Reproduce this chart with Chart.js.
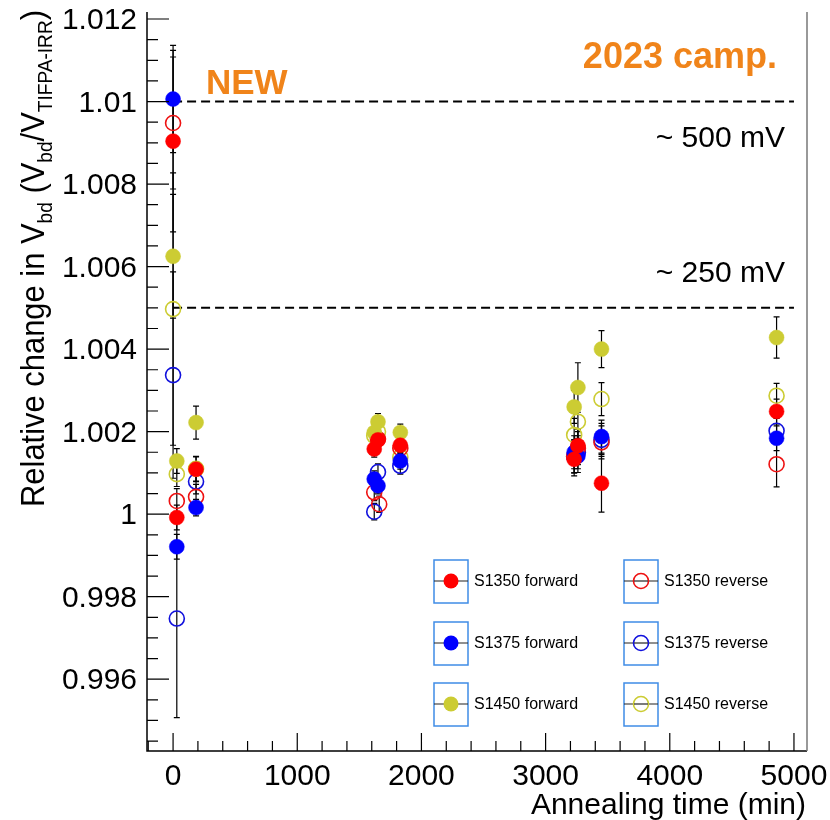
<!DOCTYPE html>
<html>
<head>
<meta charset="utf-8">
<script src="https://cdn.jsdelivr.net/npm/chart.js@4.4.0/dist/chart.umd.min.js"></script>
<style>
  html, body { margin: 0; padding: 0; background: #fff; }
</style>
</head>
<body>
<canvas id="annealChart" width="830" height="820"></canvas>
<script>
// axis setup
const xTicks = [0, 1000, 2000, 3000, 4000, 5000];
const yTicks = [0.996, 0.998, 1, 1.002, 1.004, 1.006, 1.008, 1.01, 1.012];
const xRange = [-210, 5105];
const yRange = [0.99426, 1.01217];

// reference lines
const refLevels = [1.01, 1.005];
const refSpan = [0, 5000];
const refLabels = ['~ 500 mV', '~ 250 mV'];

// annealing times (min), values, errors
const s1350fT = [0, 30, 185, 1620, 1650, 1830, 3230, 3260, 3450, 4860];
const s1350fV = [1.00904, 0.99992, 1.00109, 1.00158, 1.00180, 1.00167, 1.00133, 1.00166, 1.00075, 1.00249];
const s1350fE = [0.0022, 0.0003, 0.0003, 0.0002, 0.0002, 0.0002, 0.0004, 0.0004, 0.0007, 0.0003];

const s1375fT = [0, 30, 185, 1620, 1650, 1830, 3230, 3260, 3450, 4860];
const s1375fV = [1.01006, 0.99921, 1.00016, 1.00085, 1.00069, 1.00129, 1.00150, 1.00141, 1.00188, 1.00184];
const s1375fE = [0.0013, 0.0003, 0.0002, 0.0002, 0.0002, 0.0002, 0.0004, 0.0004, 0.0004, 0.0003];

const s1450fT = [0, 30, 185, 1620, 1650, 1830, 3230, 3260, 3450, 4860];
const s1450fV = [1.00625, 1.00129, 1.00222, 1.00198, 1.00224, 1.00198, 1.00260, 1.00307, 1.00400, 1.00428];
const s1450fE = [0.0015, 0.0003, 0.0004, 0.0002, 0.0002, 0.0002, 0.0004, 0.0006, 0.00045, 0.0005];

const s1350rT = [0, 30, 185, 1620, 1650, 1660, 1830, 3230, 3260, 3450, 4860];
const s1350rV = [1.00948, 1.00032, 1.00042, 1.00053, 1.00182, 1.00024, 1.00160, 1.00140, 1.00160, 1.00174, 1.00121];
const s1350rE = [0.0016, 0.0003, 0.0003, 0.0002, 0.0002, 0.0002, 0.0002, 0.0004, 0.0004, 0.0004, 0.00055];

const s1375rT = [0, 30, 185, 1620, 1650, 1830, 3230, 3260, 3450, 4860];
const s1375rV = [1.00337, 0.99747, 1.00079, 1.00006, 1.00102, 1.00117, 1.00140, 1.00150, 1.00180, 1.00202];
const s1375rE = [0.0025, 0.0024, 0.0003, 0.0002, 0.0002, 0.0002, 0.0004, 0.0004, 0.0004, 0.0003];

const s1450rT = [0, 30, 185, 1620, 1650, 1830, 3230, 3260, 3450, 4860];
const s1450rV = [1.00497, 1.00097, 1.00110, 1.00190, 1.00200, 1.00138, 1.00192, 1.00224, 1.00279, 1.00287];
const s1450rE = [0.0033, 0.0003, 0.0003, 0.0002, 0.0002, 0.0002, 0.0004, 0.0004, 0.0004, 0.0003];

const FONT = '"Liberation Sans", Arial, Helvetica, sans-serif';
const ORANGE = '#f0841a';

const series = [
    { label: 'S1350 forward', color: '#ff0000', filled: true,  t: s1350fT, v: s1350fV, e: s1350fE },
    { label: 'S1375 forward', color: '#0000ff', filled: true,  t: s1375fT, v: s1375fV, e: s1375fE },
    { label: 'S1450 forward', color: '#cccc33', filled: true,  t: s1450fT, v: s1450fV, e: s1450fE },
    { label: 'S1350 reverse', color: '#ee1111', filled: false, t: s1350rT, v: s1350rV, e: s1350rE },
    { label: 'S1375 reverse', color: '#1111dd', filled: false, t: s1375rT, v: s1375rV, e: s1375rE },
    { label: 'S1450 reverse', color: '#cccc33', filled: false, t: s1450rT, v: s1450rV, e: s1450rE }
];

const datasets = series.map(s => ({
    type: 'scatter',
    label: s.label,
    data: s.t.map((t, i) => ({ x: t, y: s.v[i] })),
    errs: s.e,
    pointStyle: 'circle',
    pointRadius: 7.5,
    pointHoverRadius: 7.5,
    pointBackgroundColor: s.filled ? s.color : 'rgba(0,0,0,0)',
    pointBorderColor: s.color,
    pointBorderWidth: s.filled ? 0.5 : 1.6,
    showLine: false
}));

refLevels.forEach(lv => {
    datasets.push({
        type: 'line',
        label: '',
        data: refSpan.map(x => ({ x: x, y: lv })),
        borderColor: '#000',
        borderWidth: 2,
        borderDash: [9, 5],
        pointRadius: 0,
        fill: false
    });
});

// vertical error bars, drawn under the markers
const errorBars = {
    id: 'errorBars',
    beforeDatasetsDraw(chart) {
        const { ctx, scales: { x, y } } = chart;
        ctx.save();
        ctx.strokeStyle = '#000';
        ctx.lineWidth = 1.2;
        chart.data.datasets.forEach(ds => {
            if (!ds.errs) return;
            ds.data.forEach((p, i) => {
                const px = x.getPixelForValue(p.x);
                const top = y.getPixelForValue(p.y + ds.errs[i]);
                const bot = y.getPixelForValue(p.y - ds.errs[i]);
                ctx.beginPath();
                ctx.moveTo(px, top); ctx.lineTo(px, bot);
                ctx.moveTo(px - 3, top); ctx.lineTo(px + 3, top);
                ctx.moveTo(px - 3, bot); ctx.lineTo(px + 3, bot);
                ctx.stroke();
            });
        });
        ctx.restore();
    }
};

// ROOT style frame, inward ticks, titles, texts and legend
const decorations = {
    id: 'decorations',
    afterDraw(chart) {
        const { ctx, chartArea: a, scales: { x, y } } = chart;
        ctx.save();

        // frame
        ctx.strokeStyle = '#000';
        ctx.lineWidth = 1.5;
        ctx.beginPath();
        ctx.moveTo(a.left, a.top); ctx.lineTo(a.left, a.bottom); ctx.lineTo(a.right, a.bottom);
        ctx.stroke();
        ctx.strokeStyle = '#777';
        ctx.beginPath();
        ctx.moveTo(a.right, a.bottom); ctx.lineTo(a.right, a.top);
        ctx.stroke();

        // x ticks
        ctx.strokeStyle = '#000';
        ctx.lineWidth = 1.2;
        ctx.beginPath();
        for (let k = Math.ceil(xRange[0] / 200); k <= Math.floor(xRange[1] / 200); k++) {
            const px = x.getPixelForValue(k * 200);
            const len = (k % 5 === 0) ? 18 : 10;
            ctx.moveTo(px, a.bottom); ctx.lineTo(px, a.bottom - len);
        }
        // y ticks
        for (let k = Math.ceil(yRange[0] / 0.0005 - 1e-6); k <= Math.floor(yRange[1] / 0.0005 + 1e-6); k++) {
            const py = y.getPixelForValue(k * 0.0005);
            const len = (k % 4 === 0) ? 22 : 11;
            ctx.moveTo(a.left, py); ctx.lineTo(a.left + len, py);
        }
        ctx.stroke();

        // x title
        ctx.fillStyle = '#000';
        ctx.font = '30px ' + FONT;
        ctx.textAlign = 'right';
        ctx.textBaseline = 'alphabetic';
        ctx.fillText('Annealing time (min)', 806, 814);

        // y title with subscripts
        const parts = [
            ['Relative change in V', false], ['bd', true], [' (V', false], ['bd', true],
            ['/V', false], ['TIFPA-IRR', true], [')', false]
        ];
        const mainF = '34px ' + FONT, subF = '21px ' + FONT;
        let natural = 0;
        parts.forEach(p => { ctx.font = p[1] ? subF : mainF; natural += ctx.measureText(p[0]).width; });
        const sx = 497 / natural;
        ctx.save();
        ctx.translate(44, 507);
        ctx.rotate(-Math.PI / 2);
        ctx.scale(sx, 1);
        ctx.textAlign = 'left';
        let cx = 0;
        parts.forEach(p => {
            ctx.font = p[1] ? subF : mainF;
            ctx.fillText(p[0], cx, p[1] ? 8 : 0);
            cx += ctx.measureText(p[0]).width;
        });
        ctx.restore();

        // annotations
        ctx.fillStyle = ORANGE;
        ctx.font = 'bold 35px ' + FONT;
        ctx.textAlign = 'left';
        ctx.fillText('NEW', 206, 94);
        ctx.textAlign = 'right';
        ctx.font = 'bold 36px ' + FONT;
        ctx.fillText('2023 camp.', 777, 68);

        ctx.fillStyle = '#000';
        ctx.font = '30px ' + FONT;
        ctx.fillText(refLabels[0], 785, 147);
        ctx.fillText(refLabels[1], 785, 282);

        // legend
        const colX = [434, 624];
        const rowY = [581, 643, 704];
        series.forEach((s, i) => {
            const bx = colX[s.filled ? 0 : 1];
            const cy = rowY[i % 3];
            ctx.strokeStyle = '#3f8ce6';
            ctx.lineWidth = 1.5;
            ctx.strokeRect(bx, cy - 21, 34, 43);
            ctx.strokeStyle = '#222';
            ctx.lineWidth = 1.2;
            ctx.beginPath();
            ctx.moveTo(bx, cy); ctx.lineTo(bx + 34, cy);
            ctx.stroke();
            ctx.beginPath();
            ctx.arc(bx + 17, cy, 7.5, 0, Math.PI * 2);
            if (s.filled) {
                ctx.fillStyle = s.color;
                ctx.fill();
            } else {
                ctx.fillStyle = '#fff';
                ctx.fill();
                ctx.strokeStyle = s.color;
                ctx.lineWidth = 1.6;
                ctx.stroke();
                ctx.strokeStyle = '#222';
                ctx.lineWidth = 1.2;
                ctx.beginPath();
                ctx.moveTo(bx + 10, cy); ctx.lineTo(bx + 24, cy);
                ctx.stroke();
            }
            ctx.fillStyle = '#000';
            ctx.font = '16px ' + FONT;
            ctx.textAlign = 'left';
            ctx.textBaseline = 'middle';
            ctx.fillText(s.label, bx + 40, cy + 1);
            ctx.textBaseline = 'alphabetic';
        });

        ctx.restore();
    }
};

new Chart(document.getElementById('annealChart'), {
    type: 'scatter',
    data: { datasets: datasets },
    options: {
        responsive: false,
        animation: false,
        events: [],
        layout: { padding: { left: 0, right: 23, top: 12, bottom: 0 } },
        plugins: { legend: { display: false }, tooltip: { enabled: false } },
        scales: {
            x: {
                type: 'linear',
                min: xRange[0],
                max: xRange[1],
                afterBuildTicks: s => { s.ticks = xTicks.map(v => ({ value: v })); },
                afterFit: s => { s.height = 69; s.paddingLeft = 0; s.paddingRight = 0; },
                grid: { display: false, drawTicks: false },
                border: { display: false },
                ticks: {
                    font: { family: FONT, size: 30 },
                    color: '#000',
                    padding: 8,
                    maxRotation: 0,
                    autoSkip: false,
                    callback: v => String(v)
                }
            },
            y: {
                type: 'linear',
                min: yRange[0],
                max: yRange[1],
                afterBuildTicks: s => { s.ticks = yTicks.map(v => ({ value: v })); },
                afterFit: s => { s.width = 147; s.paddingTop = 0; s.paddingBottom = 0; },
                grid: { display: false, drawTicks: false },
                border: { display: false },
                ticks: {
                    font: { family: FONT, size: 30 },
                    color: '#000',
                    padding: 10,
                    labelOffset: 2,
                    autoSkip: false,
                    callback: v => String(parseFloat(Number(v).toFixed(3)))
                }
            }
        }
    },
    plugins: [errorBars, decorations]
});
</script>
</body>
</html>
